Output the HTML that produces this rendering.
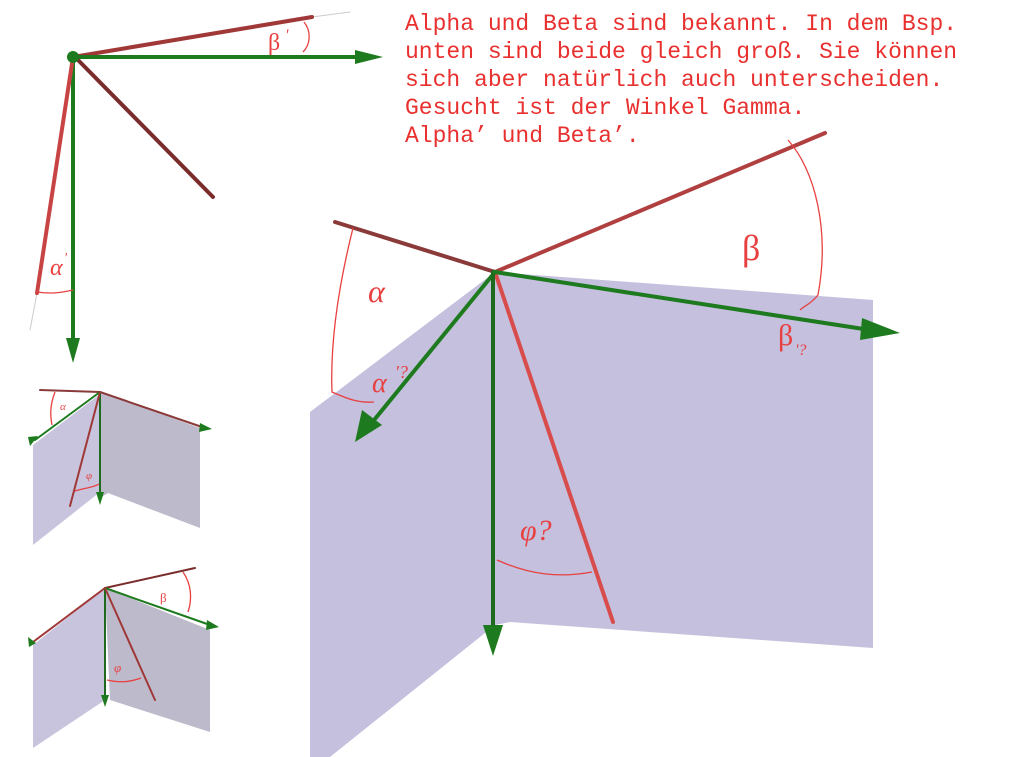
<!DOCTYPE html>
<html><head><meta charset="utf-8"><style>
html,body{margin:0;padding:0;background:#fff;}
svg{display:block;}
</style></head><body>
<svg width="1010" height="757" viewBox="0 0 1010 757" xmlns="http://www.w3.org/2000/svg">
<g fill="#c4c0dd">
<polygon points="495,272 873,300 873,648 510,622 495,625 330,757 310,757 310,412"/>
<polygon points="33,445 100,394 100,492 33,545" fill="#c8c4dd"/>
<polygon points="100,392 200,428 200,528 108,493 100,498" fill="#bdbacb"/>
<polygon points="33,645 105,588 105,700 33,748" fill="#c8c4dd"/>
<polygon points="105,588 210,630 210,732 110,700" fill="#bdbacb"/>
</g>
<g stroke-linecap="round" fill="none">
<line x1="335" y1="222" x2="495" y2="272" stroke="#8b3a3a" stroke-width="4"/>
<line x1="495" y1="272" x2="825" y2="133" stroke="#b04040" stroke-width="4"/>
<line x1="495" y1="272" x2="613" y2="622" stroke="#d84c4c" stroke-width="4"/>
<line x1="495" y1="272" x2="370" y2="425" stroke="#1e7a1e" stroke-width="4"/>
<line x1="493" y1="272" x2="493" y2="630" stroke="#1e6a1e" stroke-width="4"/>
<line x1="495" y1="272" x2="870" y2="330" stroke="#1e7a1e" stroke-width="4"/>
<line x1="312" y1="17" x2="350" y2="12" stroke="#ccc" stroke-width="1"/>
<line x1="37" y1="293" x2="30" y2="330" stroke="#ccc" stroke-width="1"/>
<line x1="73" y1="57" x2="312" y2="17" stroke="#a03838" stroke-width="4"/>
<line x1="73" y1="57" x2="355" y2="57" stroke="#1e7a1e" stroke-width="4"/>
<line x1="78" y1="60" x2="213" y2="197" stroke="#7a2c2c" stroke-width="4"/>
<line x1="73" y1="57" x2="73" y2="340" stroke="#1e7a1e" stroke-width="4"/>
<line x1="73" y1="57" x2="37" y2="293" stroke="#c84444" stroke-width="4"/>
<line x1="40" y1="390" x2="100" y2="392" stroke="#8b3a3a" stroke-width="2"/>
<line x1="100" y1="392" x2="35" y2="440" stroke="#1e7a1e" stroke-width="2"/>
<line x1="100" y1="392" x2="202" y2="427" stroke="#8b3a3a" stroke-width="2"/>
<line x1="100" y1="392" x2="100" y2="495" stroke="#1e6a1e" stroke-width="2"/>
<line x1="100" y1="392" x2="70" y2="506" stroke="#a03838" stroke-width="2"/>
<line x1="105" y1="588" x2="33" y2="642" stroke="#a03838" stroke-width="2"/>
<line x1="105" y1="588" x2="195" y2="568" stroke="#7a2c2c" stroke-width="2"/>
<line x1="105" y1="588" x2="210" y2="625" stroke="#1e7a1e" stroke-width="2"/>
<line x1="105" y1="588" x2="105" y2="697" stroke="#1e6a1e" stroke-width="2"/>
<line x1="105" y1="588" x2="155" y2="700" stroke="#a03838" stroke-width="2"/>
</g>
<g fill="#1e7a1e">
<circle cx="73" cy="57" r="6"/>
<polygon points="355,50 383,57 355,64"/>
<polygon points="66,338 80,338 73,363"/>
<polygon points="362,410 382,425 355,442"/>
<polygon points="483,625 503,625 493,656"/>
<polygon points="862,318 900,333 860,340"/>
<polygon points="28,437 38,436 30,446"/>
<polygon points="200,423 212,429 199,432"/>
<polygon points="96,492 104,492 100,505"/>
<polygon points="28,637 36,643 29,647"/>
<polygon points="207,620 219,627 206,630"/>
<polygon points="101,695 109,695 105,707"/>
</g>
<g fill="none" stroke="#e84040" stroke-width="1.3">
<path d="M353,228 C340,280 330,340 332,392 C350,400 360,403 374,402"/>
<path d="M788,140 C815,170 830,230 818,295 C810,305 805,305 800,310"/>
<path d="M497,560 C530,575 560,578 592,572"/>
<path d="M304,22 C312,32 310,45 303,52"/>
<path d="M37,292 C50,294 60,293 73,290"/>
<path d="M55,392 C50,405 50,415 52,425"/>
<path d="M75,491 C85,488 95,487 99,484"/>
<path d="M183,572 C192,585 192,600 188,612"/>
<path d="M107,680 C120,683 130,682 141,678"/>
</g>
<g fill="#e84040" font-family="Liberation Serif, serif" font-style="italic">
<text x="368" y="302" font-size="32">α</text>
<text x="742" y="260" font-size="36" font-style="normal">β</text>
<text x="372" y="392" font-size="28">α</text><text x="395" y="378" font-size="18">'?</text>
<text x="778" y="345" font-size="30" font-style="normal">β</text><text x="795" y="355" font-size="16">'?</text>
<text x="520" y="540" font-size="30">φ?</text>
<text x="268" y="50" font-size="24" font-style="normal">β</text><text x="285" y="40" font-size="16">'</text>
<text x="50" y="275" font-size="24">α</text><text x="64" y="262" font-size="14">'</text>
<text x="60" y="410" font-size="11">α</text>
<text x="86" y="479" font-size="11">φ</text>
<text x="160" y="602" font-size="13" font-style="normal">β</text>
<text x="114" y="672" font-size="13">φ</text>
</g>
<g fill="#e8302f" font-family="Liberation Mono, monospace" font-size="23">
<text x="405" y="30">Alpha und Beta sind bekannt. In dem Bsp.</text>
<text x="405" y="58">unten sind beide gleich groß. Sie können</text>
<text x="405" y="86">sich aber natürlich auch unterscheiden.</text>
<text x="405" y="114">Gesucht ist der Winkel Gamma.</text>
<text x="405" y="142">Alpha’ und Beta’.</text>
</g>
</svg>
</body></html>
